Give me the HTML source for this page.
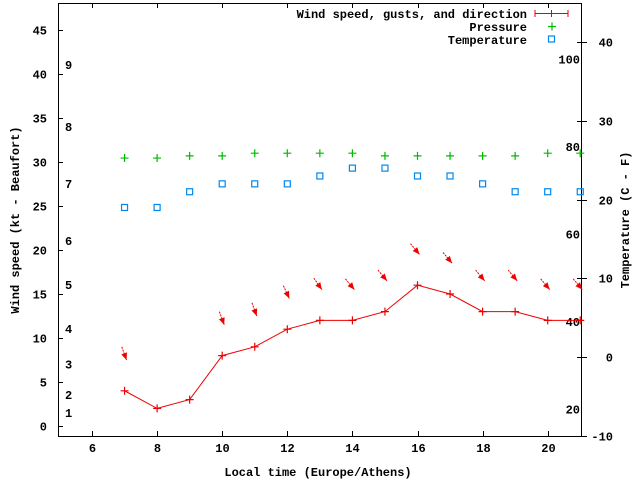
<!DOCTYPE html>
<html><head><meta charset="utf-8"><style>
body{margin:0;background:#fff}
svg{display:block;font-family:"Liberation Mono","DejaVu Sans Mono",monospace;font-size:12px;font-weight:bold}
</style></head><body>
<svg id="c" width="640" height="480" xmlns="http://www.w3.org/2000/svg">
<rect x="0" y="0" width="640" height="480" fill="#fff"/>
<g id="axes"></g>
<g id="marks"></g>
<text x="318" y="476" text-anchor="middle">Local time (Europe/Athens)</text>
<text transform="translate(19,220) rotate(-90)" text-anchor="middle">Wind speed (kt - Beaufort)</text>
<text transform="translate(629,220) rotate(-90)" text-anchor="middle">Temperature (C - F)</text>
<g>
<text x="527" y="18" text-anchor="end">Wind speed, gusts, and direction</text>
<path d="M535 13.5h33M535 10v7M568 10v7M551.5 10v7" stroke="#e00" stroke-width="1"/>
<text x="527" y="31" text-anchor="end">Pressure</text>
<path d="M548 26.5h8M552 22.5v8" stroke="#0b0" stroke-width="1.2"/>
<text x="527" y="44" text-anchor="end">Temperature</text>
<rect x="548.5" y="36" width="6" height="6" fill="none" stroke="#08e" stroke-width="1.2"/>
</g>
</svg>
<script>
const hours=[7,8,9,10,11,12,13,14,15,16,17,18,19,20,21];
const windKt=[4,2,3,8,9,11,12,12,13,16,15,13,13,12,12];
const gustKt=[7.5,null,null,11.5,12.5,14.5,15.5,15.5,16.5,19.5,18.5,16.5,16.5,15.5,15.5];
const windDir=[340,null,null,340,340,335,325,320,320,320,320,320,320,320,320];
const pressure=[30.45,30.45,30.7,30.7,31,31,31,31,30.7,30.7,30.7,30.7,30.7,31,31];
const tempC=[19,19,21,22,22,22,23,24,24,23,23,22,21,21,21];
const xTicks=[6,8,10,12,14,16,18,20];
const yTicks=[0,5,10,15,20,25,30,35,40,45];
const bftLabels=[1,2,3,4,5,6,7,8,9];
const bftKt=[1.5,3.5,7,11,16,21,27.5,34,41];
const cTicks=[-10,0,10,20,30,40];
const fTicks=[20,40,60,80,100];

const L=58,R=581,T=3,B=436;
const px=h=>92+(h-6)*32.55;
const py=v=>426-v*8.8;
const pc=c=>357-c*7.87;
const pf=f=>pc((f-32)*5/9);
const NS='http://www.w3.org/2000/svg';
function mk(tag,attrs,parent,txt){const e=document.createElementNS(NS,tag);for(const k in attrs)e.setAttribute(k,attrs[k]);if(txt!==undefined)e.textContent=txt;parent.appendChild(e);return e;}
const ax=document.getElementById('axes'),mg=document.getElementById('marks');

let fr=mk('rect',{x:L+.5,y:T+.5,width:R-L,height:B-T,fill:'none',stroke:'#000'},ax);



xTicks.forEach(h=>{const x=Math.round(px(h))+.5;
 let t=mk('path',{d:`M${x} ${B}v-5M${x} ${T}v5`,stroke:'#000'},ax);
 
 
 let l=mk('text',{x:x,y:452,'text-anchor':'middle'},ax,h);
 
 
});
yTicks.forEach(v=>{const y=Math.round(py(v))+.5;
 let t=mk('path',{d:`M${L} ${y}h5`,stroke:'#000'},ax);
 
 
 let l=mk('text',{x:47,y:y+4,'text-anchor':'end'},ax,v);
 
 
});
bftLabels.forEach((b,i)=>{
 let l=mk('text',{x:65,y:py(bftKt[i])+4},ax,b);
 
 
});
cTicks.forEach(c=>{const y=Math.round(pc(c))+.5;
 let t=mk('path',{d:`M${R-4} ${y}h10`,stroke:'#000'},ax);
 
 
 let l=mk('text',{x:613,y:y+4,'text-anchor':'end'},ax,c);
 
 
});
fTicks.forEach(f=>{
 let l=mk('text',{x:580,y:pf(f)+4,'text-anchor':'end'},ax,f);
 
 
});

let pts=hours.map((h,i)=>px(h)+','+py(windKt[i])).join(' ');
let wl=mk('polyline',{points:pts,fill:'none',stroke:'#e00','stroke-width':1},mg);


hours.forEach((h,i)=>{const x=px(h),y=py(windKt[i]);
 let p=mk('path',{d:`M${x-4} ${y}h8M${x} ${y-4}v8`,stroke:'#e00','stroke-width':1.2},mg);
 
 
 if(gustKt[i]!=null){
  const hx=x+2,hy=py(gustKt[i]);const a=(windDir[i]+180)*Math.PI/180;
  const dx=Math.sin(a),dy=-Math.cos(a);const len=14;
  const tx=hx-dx*len,ty=hy-dy*len;
  const nx=-dy,ny=dx;
  let g=mk('g',{},mg);
  
  
  mk('line',{x1:tx,y1:ty,x2:hx,y2:hy,stroke:'#e00','stroke-width':1,'stroke-dasharray':'2,1'},g);
  mk('polygon',{points:`${hx},${hy} ${hx-dx*7+nx*3},${hy-dy*7+ny*3} ${hx-dx*7-nx*3},${hy-dy*7-ny*3}`,fill:'#e00'},g);
 }
});
hours.forEach((h,i)=>{const x=px(h),y=py(pressure[i]);
 let p=mk('path',{d:`M${x-4} ${y}h8M${x} ${y-4}v8`,stroke:'#0b0','stroke-width':1.2},mg);
 
 
});
hours.forEach((h,i)=>{const x=px(h),y=pc(tempC[i]);
 let p=mk('rect',{x:x-3,y:y-3,width:6,height:6,fill:'none',stroke:'#08e','stroke-width':1.2},mg);
 
 
});
</script>
</body></html>
